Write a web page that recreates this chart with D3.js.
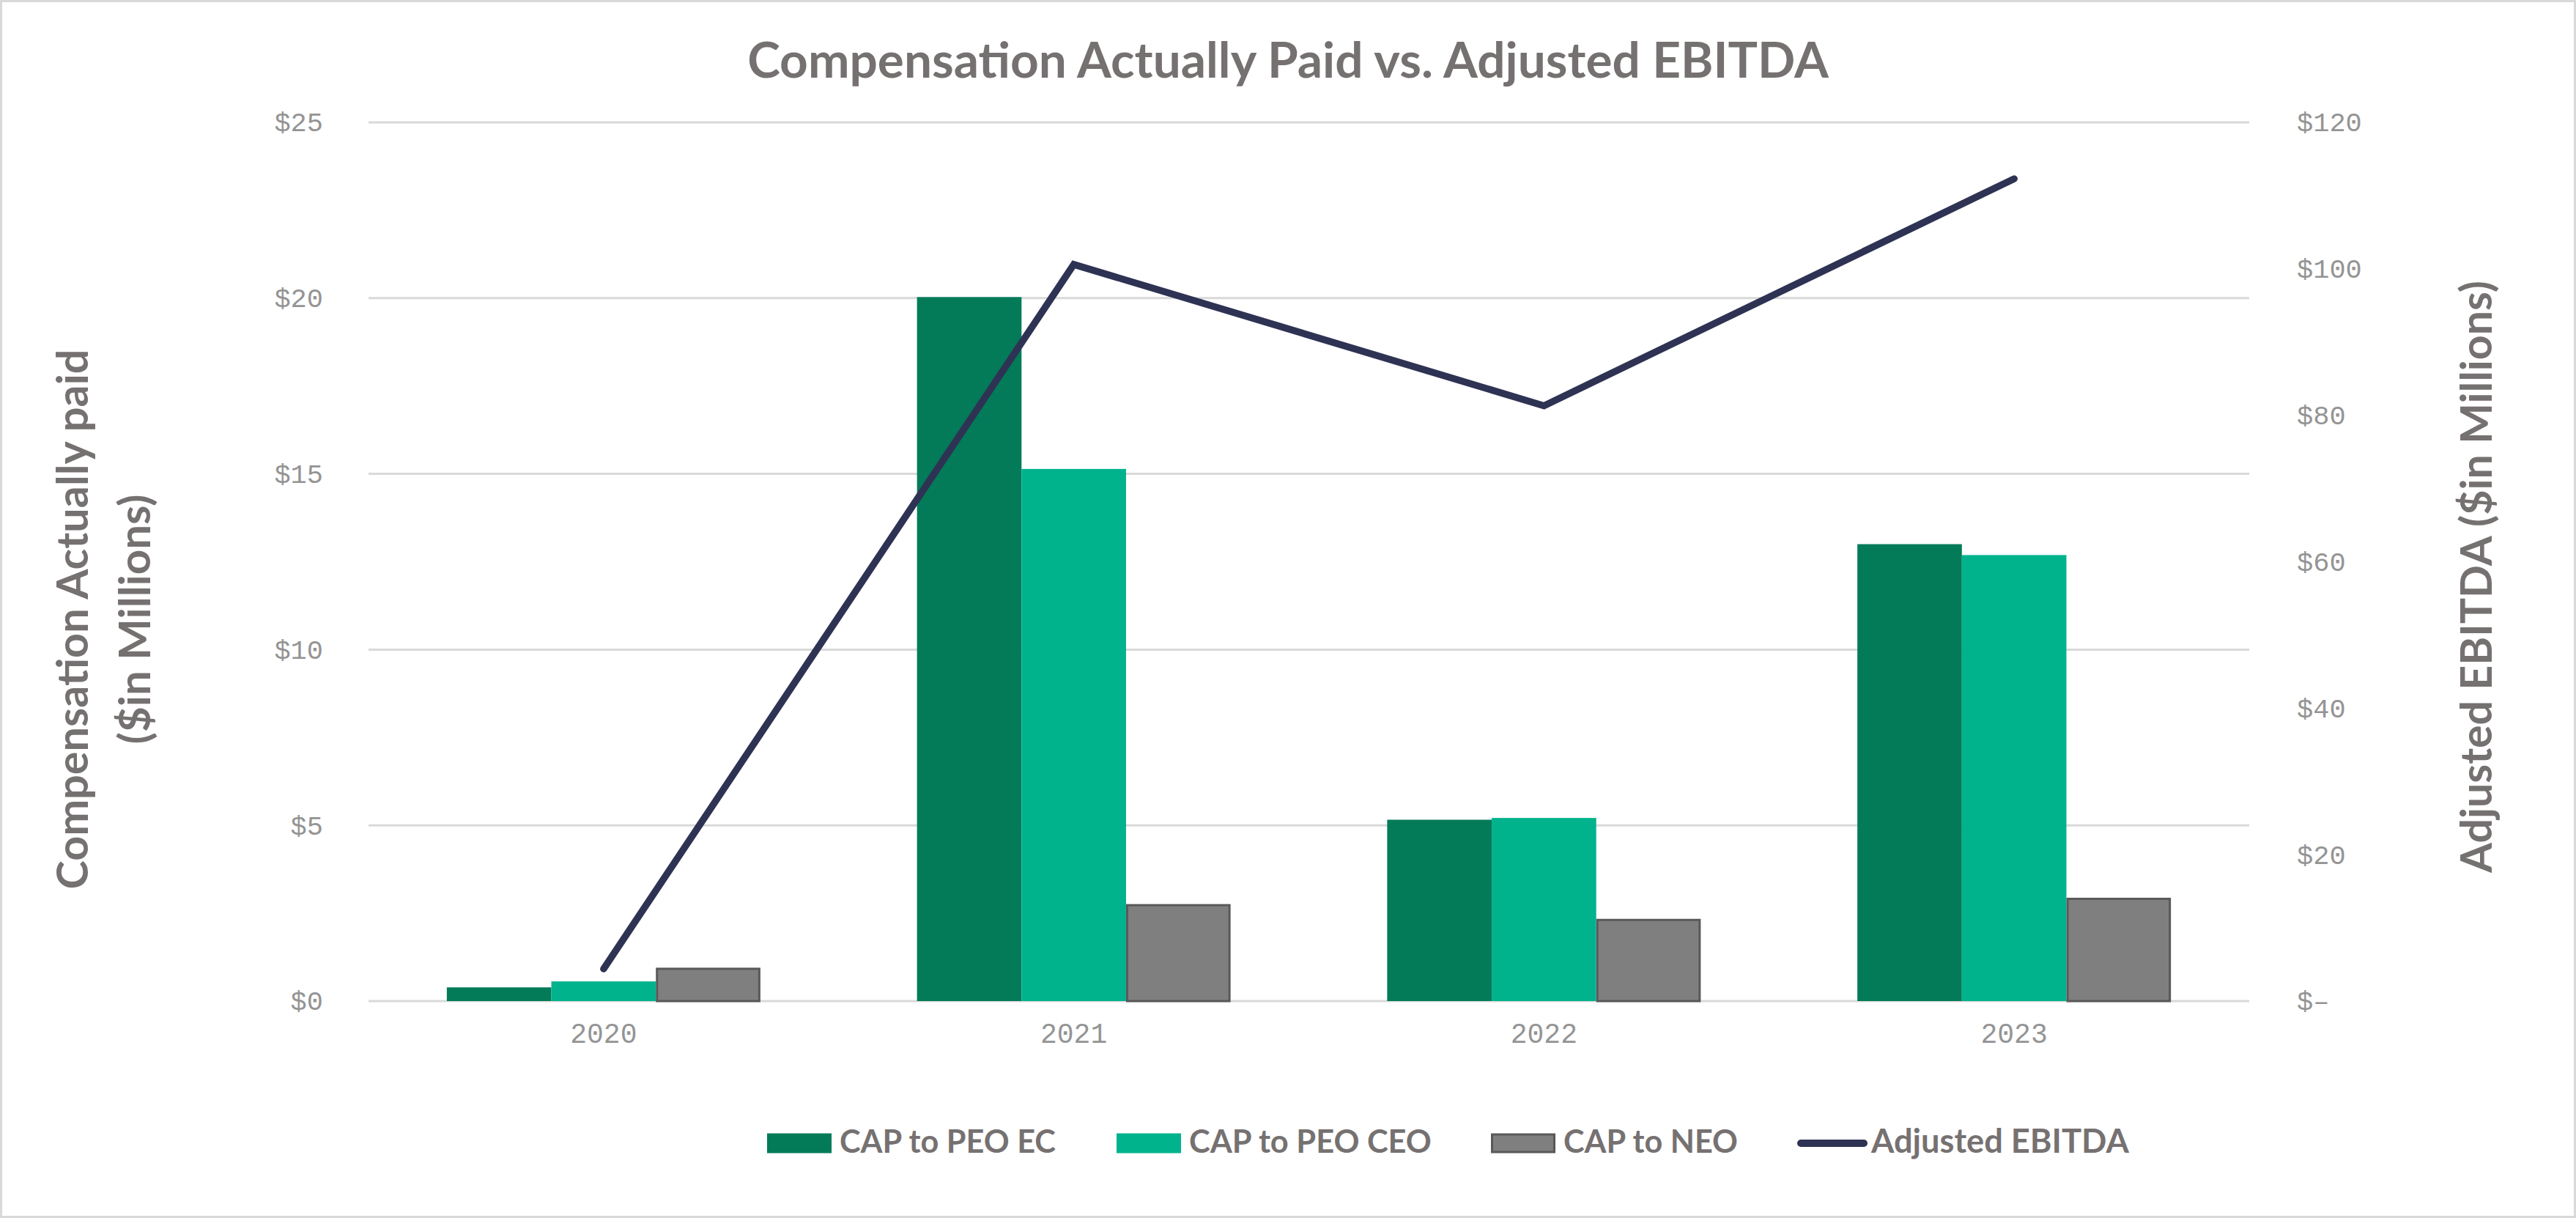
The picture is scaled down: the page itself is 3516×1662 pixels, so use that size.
<!DOCTYPE html>
<html>
<head>
<meta charset="utf-8">
<script src="https://cdn.jsdelivr.net/npm/d3@7"></script>
<style>
  html, body { margin: 0; padding: 0; background: #ffffff; }
  svg { display: block; }
</style>
</head>
<body>
<script>
// ---------- Data ----------
const years = ["2020", "2021", "2022", "2023"];
const seriesNames = ["CAP to PEO EC", "CAP to PEO CEO", "CAP to NEO"];
const capPeoEc = [0.39, 20.03, 5.16, 13.0];
const capPeoCeo = [0.56, 15.14, 5.21, 12.69];
const capNeo = [0.95, 2.76, 2.34, 2.94];
const lineName = "Adjusted EBITDA";
const adjustedEbitda = [4.4, 100.6, 81.3, 112.3];
const leftTicks = [0, 5, 10, 15, 20, 25];
const leftTickLabels = ["$0", "$5", "$10", "$15", "$20", "$25"];
const rightTicks = [0, 20, 40, 60, 80, 100, 120];
const rightTickLabels = ["$\u2013", "$20", "$40", "$60", "$80", "$100", "$120"];
const titleText = "Compensation Actually Paid vs. Adjusted EBITDA";
const leftTitleLines = ["Compensation Actually paid", "($in Millions)"];
const rightTitleText = "Adjusted EBITDA ($in Millions)";

// ---------- Layout / style ----------
const W = 3516, H = 1662;
const plot = { left: 503, right: 3070, top: 167, bottom: 1366 };
const colors = ["#037B59", "#00B38D", "#7F7F7F"];
const lineColor = "#2E3354";
const textColor = "#767171";
const tickColor = "#949494";
const gridColor = "#d9d9d9";
const boldFont = "Lato, 'Open Sans', 'Noto Sans', sans-serif";
const monoFont = "'Liberation Mono', 'DejaVu Sans Mono', monospace";

const svg = d3.select("body").append("svg").attr("width", W).attr("height", H);
svg.append("rect").attr("x", 1.5).attr("y", 1.5).attr("width", W - 3).attr("height", H - 3)
  .attr("fill", "#fff").attr("stroke", "#d9d9d9").attr("stroke-width", 3);

// Condense a text to a target width (keeps its font size, like a narrow face)
function fitLength(sel, target) {
  const w = sel.node().getComputedTextLength();
  if (w > target) {
    sel.attr("textLength", target).attr("lengthAdjust", "spacingAndGlyphs");
  } else {
    const fs = parseFloat(sel.attr("font-size"));
    sel.attr("font-size", fs * target / w);
  }
  return sel;
}

// Scales
const x0 = d3.scaleBand().domain(years).range([plot.left, plot.right])
  .paddingInner(1 - 428 / 641.75).paddingOuter((1 - 428 / 641.75) / 2);
const x1 = d3.scaleBand().domain(seriesNames).range([0, x0.bandwidth()]).padding(0);
const yL = d3.scaleLinear().domain([0, 25]).range([plot.bottom, plot.top]);
const yR = d3.scaleLinear().domain([0, 120]).range([plot.bottom, plot.top]);

// Gridlines
svg.append("g").selectAll("line").data(leftTicks).join("line")
  .attr("x1", plot.left).attr("x2", plot.right)
  .attr("y1", d => yL(d)).attr("y2", d => yL(d))
  .attr("stroke", gridColor).attr("stroke-width", 3);

// Left axis labels
const leftAxis = d3.axisLeft(yL).tickValues(leftTicks)
  .tickFormat((d, i) => leftTickLabels[i]).tickSize(0).tickPadding(62);
const gL = svg.append("g").attr("transform", `translate(${plot.left},0)`).call(leftAxis);
gL.select(".domain").remove();
gL.selectAll("text").attr("font-family", monoFont).attr("font-size", 37)
  .attr("fill", tickColor);

// Right axis labels
const rightAxis = d3.axisRight(yR).tickValues(rightTicks)
  .tickFormat((d, i) => rightTickLabels[i]).tickSize(0).tickPadding(65);
const gR = svg.append("g").attr("transform", `translate(${plot.right},0)`).call(rightAxis);
gR.select(".domain").remove();
gR.selectAll("text").attr("font-family", monoFont).attr("font-size", 37)
  .attr("fill", tickColor);

// Bottom axis labels
const xAxis = d3.axisBottom(x0).tickSize(0).tickPadding(30);
const gX = svg.append("g").attr("transform", `translate(0,${plot.bottom})`).call(xAxis);
gX.select(".domain").remove();
gX.selectAll("text").attr("font-family", monoFont).attr("font-size", 38)
  .attr("fill", tickColor);

// Bars
const seriesValues = [capPeoEc, capPeoCeo, capNeo];
const barData = [];
years.forEach((yr, i) => {
  seriesNames.forEach((s, j) => barData.push({ year: yr, series: s, j, value: seriesValues[j][i] }));
});
svg.append("g").selectAll("rect").data(barData).join("rect")
  .attr("x", d => x0(d.year) + x1(d.series) + (d.j === 2 ? 1.5 : 0))
  .attr("width", d => x1.bandwidth() - (d.j === 2 ? 3 : 0))
  .attr("y", d => yL(d.value) + (d.j === 2 ? 1.5 : 0))
  .attr("height", d => plot.bottom - yL(d.value) - (d.j === 2 ? 1.5 : 0))
  .attr("fill", d => colors[d.j])
  .attr("stroke", d => d.j === 2 ? "#595959" : "none")
  .attr("stroke-width", 3);

// Line
const lineGen = d3.line()
  .x((d, i) => x0(years[i]) + x0.bandwidth() / 2)
  .y(d => yR(d));
svg.append("path").datum(adjustedEbitda)
  .attr("d", lineGen)
  .attr("fill", "none").attr("stroke", lineColor).attr("stroke-width", 9.5)
  .attr("stroke-linecap", "round").attr("stroke-linejoin", "miter");

// Title
const title = svg.append("text").attr("x", W / 2).attr("y", 106)
  .attr("text-anchor", "middle").attr("font-family", boldFont).attr("font-weight", 700)
  .attr("font-size", 65).attr("fill", textColor).text(titleText);
fitLength(title, 1476);

// Left axis title (two lines)
const lt1 = svg.append("text").attr("transform", "translate(120,845) rotate(-90)")
  .attr("text-anchor", "middle").attr("font-family", boldFont).attr("font-weight", 700)
  .attr("font-size", 57).attr("fill", textColor).text(leftTitleLines[0]);
fitLength(lt1, 737);
const lt2 = svg.append("text").attr("transform", "translate(205,845) rotate(-90)")
  .attr("text-anchor", "middle").attr("font-family", boldFont).attr("font-weight", 700)
  .attr("font-size", 57).attr("fill", textColor).text(leftTitleLines[1]);
fitLength(lt2, 341);

// Right axis title
const rt = svg.append("text").attr("transform", "translate(3401,787) rotate(-90)")
  .attr("text-anchor", "middle").attr("font-family", boldFont).attr("font-weight", 700)
  .attr("font-size", 57).attr("fill", textColor).text(rightTitleText);
fitLength(rt, 808);

// Legend
const legendItems = [
  { name: seriesNames[0], type: "rect", color: colors[0], x: 1047, tw: 295 },
  { name: seriesNames[1], type: "rect", color: colors[1], x: 1524, tw: 331 },
  { name: seriesNames[2], type: "rect", color: colors[2], stroke: "#595959", x: 2035, tw: 238 },
  { name: lineName, type: "line", color: lineColor, x: 2453, tw: 352 }
];
const legend = svg.append("g");
const legY = 1560;
legendItems.forEach(it => {
  const lx = it.x;
  if (it.type === "rect") {
    legend.append("rect").attr("x", lx + (it.stroke ? 1.5 : 0)).attr("y", legY - 13.5 + (it.stroke ? 1.5 : 0))
      .attr("width", 88 - (it.stroke ? 3 : 0)).attr("height", 27 - (it.stroke ? 3 : 0))
      .attr("fill", it.color).attr("stroke", it.stroke || "none").attr("stroke-width", 3);
  } else {
    legend.append("line").attr("x1", lx + 5).attr("x2", lx + 91).attr("y1", legY).attr("y2", legY)
      .attr("stroke", it.color).attr("stroke-width", 10).attr("stroke-linecap", "round");
  }
  const t = legend.append("text").attr("x", lx + (it.type === "line" ? 101 : 99)).attr("y", legY + 13)
    .attr("font-family", boldFont).attr("font-weight", 700).attr("font-size", 42)
    .attr("fill", textColor).text(it.name);
  fitLength(t, it.tw);
});
</script>
</body>
</html>
